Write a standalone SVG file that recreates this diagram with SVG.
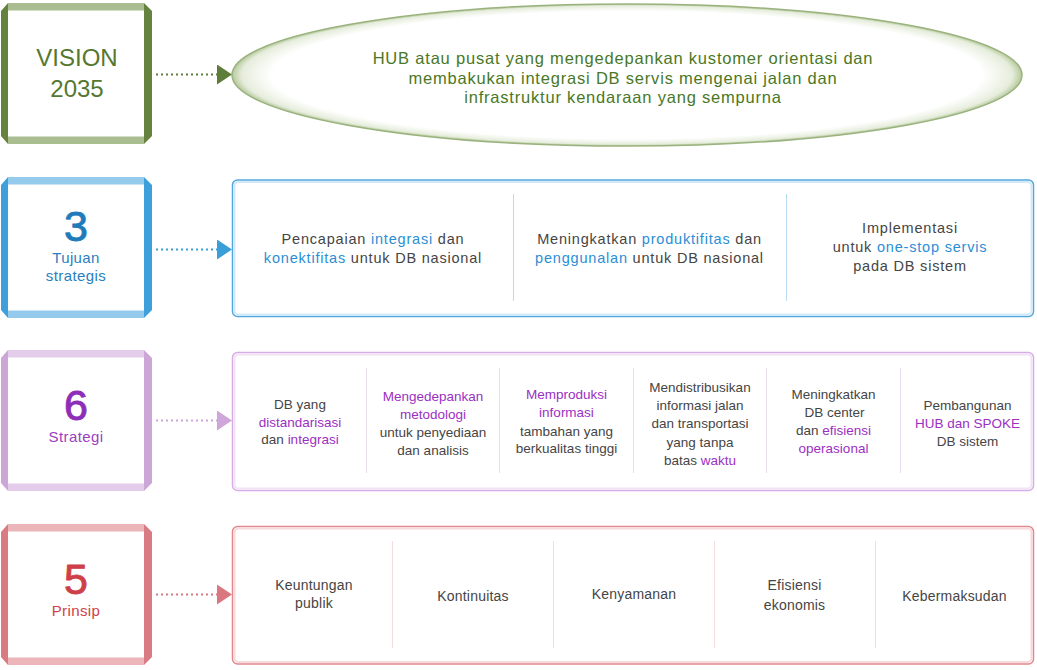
<svg xmlns="http://www.w3.org/2000/svg" width="1037" height="670" viewBox="0 0 1037 670">
<defs>
<style>
text{font-family:"Liberation Sans",Arial,sans-serif;text-anchor:middle}
.big{font-size:43px;stroke-width:0.9}
.lbl{font-size:15px;letter-spacing:0.4px}
.vis{font-size:24px;fill:#56772f}
.ell{font-size:16.5px;letter-spacing:0.8px;fill:#4a7826}
.t2{font-size:14.5px;letter-spacing:0.8px;fill:#454545}
.t3{font-size:13.5px;fill:#454545}
.t4{font-size:14px;letter-spacing:0.2px;fill:#454545}
.hb{fill:#2b8ed6}
.hp{fill:#9b30c2}
.dot{stroke-width:2.2;stroke-dasharray:2 3;fill:none}
</style>
<radialGradient id="eg" cx="0.5" cy="0.5" r="0.5">
<stop offset="0.9" stop-color="#ffffff"/>
<stop offset="0.975" stop-color="#e6eddc"/>
<stop offset="1" stop-color="#b6c99c"/>
</radialGradient>
<marker id="mg" markerUnits="userSpaceOnUse" markerWidth="15" markerHeight="20" refX="0" refY="10" orient="auto"><path d="M0,0 L15,10 L0,20 z" fill="#5f7d3a"/></marker>
<marker id="mb" markerUnits="userSpaceOnUse" markerWidth="15" markerHeight="20" refX="0" refY="10" orient="auto"><path d="M0,0 L15,10 L0,20 z" fill="#3a9fd9"/></marker>
<marker id="mp" markerUnits="userSpaceOnUse" markerWidth="15" markerHeight="20" refX="0" refY="10" orient="auto"><path d="M0,0 L15,10 L0,20 z" fill="#cfa6da"/></marker>
<marker id="mr" markerUnits="userSpaceOnUse" markerWidth="15" markerHeight="20" refX="0" refY="10" orient="auto"><path d="M0,0 L15,10 L0,20 z" fill="#d97880"/></marker>
</defs>
<rect width="1037" height="670" fill="#ffffff"/>

<!-- Row 1 -->
<g id="vision">
<rect x="8" y="3" width="136" height="7.5" fill="#aabd91"/>
<rect x="8" y="136.5" width="136" height="7.5" fill="#aabd91"/>
<polygon points="1,11 8,3 8,144 1,136" fill="#66823f"/>
<polygon points="144,3 152,11 152,136 144,144" fill="#66823f"/>
<text class="vis" x="77" y="66">VISION</text>
<text class="vis" x="77" y="96.5">2035</text>
</g>
<g id="vision-statement">
<ellipse cx="627" cy="75" rx="395" ry="71" fill="url(#eg)" stroke="#9ab37e" stroke-width="1.5"/>
<text class="ell" x="623" y="64">HUB atau pusat yang mengedepankan kustomer orientasi dan</text>
<text class="ell" x="623" y="83.5">membakukan integrasi DB servis mengenai jalan dan</text>
<text class="ell" x="623" y="103">infrastruktur kendaraan yang sempurna</text>
</g>

<!-- Row 2 -->
<g id="tujuan">
<rect x="8" y="177" width="136" height="7.5" fill="#94cbec"/>
<rect x="8" y="310.5" width="136" height="7.5" fill="#94cbec"/>
<polygon points="1,185 8,177 8,318 1,310" fill="#3da0db"/>
<polygon points="144,177 152,185 152,310 144,318" fill="#3da0db"/>
<text class="big" x="76" y="241" fill="#1f7bb9" stroke="#1f7bb9">3</text>
<text class="lbl" x="76" y="263" fill="#2a7fbd">Tujuan</text>
<text class="lbl" x="76" y="281" fill="#2a7fbd">strategis</text>
</g>
<g id="tujuan-panel">
<rect x="232.5" y="180" width="801" height="136.5" rx="5" fill="#ffffff" stroke="#52a8de" stroke-width="1.5"/>
<rect x="234.5" y="182" width="797" height="132.5" rx="4" fill="none" stroke="#d3e9f7" stroke-width="2"/>
<line x1="513.5" y1="194" x2="513.5" y2="301" stroke="#b8dcf2" stroke-width="1"/>
<line x1="786.5" y1="194" x2="786.5" y2="301" stroke="#b8dcf2" stroke-width="1"/>
<text class="t2" x="373" y="244">Pencapaian <tspan class="hb">integrasi</tspan> dan</text>
<text class="t2" x="373" y="263"><tspan class="hb">konektifitas</tspan> untuk DB nasional</text>
<text class="t2" x="649.5" y="244">Meningkatkan <tspan class="hb">produktifitas</tspan> dan</text>
<text class="t2" x="649.5" y="263"><tspan class="hb">penggunalan</tspan> untuk DB nasional</text>
<text class="t2" x="910" y="233">Implementasi</text>
<text class="t2" x="910" y="252">untuk <tspan class="hb">one-stop servis</tspan></text>
<text class="t2" x="910" y="271">pada DB sistem</text>
</g>

<!-- Row 3 -->
<g id="strategi">
<rect x="8" y="350" width="136" height="7.5" fill="#e3cdea"/>
<rect x="8" y="483.5" width="136" height="7.5" fill="#e3cdea"/>
<polygon points="1,358 8,350 8,491 1,483" fill="#cda6d8"/>
<polygon points="144,350 152,358 152,483 144,491" fill="#cda6d8"/>
<text class="big" x="76" y="420" fill="#8e2db8" stroke="#8e2db8">6</text>
<text class="lbl" x="76" y="441.5" fill="#9b3fc0">Strategi</text>
</g>
<g id="strategi-panel">
<rect x="232.5" y="352.5" width="801" height="138" rx="5" fill="#ffffff" stroke="#d7ade5" stroke-width="1.5"/>
<rect x="234.5" y="354.5" width="797" height="134" rx="4" fill="none" stroke="#f1e3f6" stroke-width="2"/>
<g stroke="#eadcef" stroke-width="1">
<line x1="366.5" y1="368" x2="366.5" y2="473"/>
<line x1="499.5" y1="368" x2="499.5" y2="473"/>
<line x1="633.5" y1="368" x2="633.5" y2="473"/>
<line x1="766.5" y1="368" x2="766.5" y2="473"/>
<line x1="900.5" y1="368" x2="900.5" y2="473"/>
</g>
<text class="t3" x="300" y="409">DB yang</text>
<text class="t3 hp" x="300" y="426.7">distandarisasi</text>
<text class="t3" x="300" y="444.4">dan <tspan class="hp">integrasi</tspan></text>
<text class="t3 hp" x="433" y="401">Mengedepankan</text>
<text class="t3 hp" x="433" y="419">metodologi</text>
<text class="t3" x="433" y="437">untuk penyediaan</text>
<text class="t3" x="433" y="455">dan analisis</text>
<text class="t3 hp" x="566.5" y="399">Memproduksi</text>
<text class="t3 hp" x="566.5" y="417">informasi</text>
<text class="t3" x="566.5" y="435.5">tambahan yang</text>
<text class="t3" x="566.5" y="453">berkualitas tinggi</text>
<text class="t3" x="700" y="392">Mendistribusikan</text>
<text class="t3" x="700" y="410">informasi jalan</text>
<text class="t3" x="700" y="428.3">dan transportasi</text>
<text class="t3" x="700" y="446.6">yang tanpa</text>
<text class="t3" x="700" y="464.5">batas <tspan class="hp">waktu</tspan></text>
<text class="t3" x="833.5" y="399.3">Meningkatkan</text>
<text class="t3" x="834.5" y="417.3">DB center</text>
<text class="t3" x="833.5" y="435">dan <tspan class="hp">efisiensi</tspan></text>
<text class="t3 hp" x="833.5" y="453.3">operasional</text>
<text class="t3" x="967.5" y="410">Pembangunan</text>
<text class="t3 hp" x="967.5" y="428.3">HUB dan SPOKE</text>
<text class="t3" x="967.5" y="446">DB sistem</text>
</g>

<!-- Row 4 -->
<g id="prinsip">
<rect x="8" y="524" width="136" height="7.5" fill="#ebb5b9"/>
<rect x="8" y="657.5" width="136" height="7.5" fill="#ebb5b9"/>
<polygon points="1,532 8,524 8,665 1,657" fill="#da7a82"/>
<polygon points="144,524 152,532 152,657 144,665" fill="#da7a82"/>
<text class="big" x="76" y="593.5" fill="#cf3f49" stroke="#cf3f49">5</text>
<text class="lbl" x="76" y="615.5" fill="#d0404a">Prinsip</text>
</g>
<g id="prinsip-panel">
<rect x="232.5" y="526.5" width="801" height="137.5" rx="5" fill="#ffffff" stroke="#e2878e" stroke-width="1.5"/>
<rect x="234.5" y="528.5" width="797" height="133.5" rx="4" fill="none" stroke="#f6d9db" stroke-width="2"/>
<g stroke="#f3dcde" stroke-width="1">
<line x1="392.5" y1="541" x2="392.5" y2="648"/>
<line x1="553.5" y1="541" x2="553.5" y2="648"/>
<line x1="714.5" y1="541" x2="714.5" y2="648"/>
<line x1="875.5" y1="541" x2="875.5" y2="648"/>
</g>
<text class="t4" x="314" y="590">Keuntungan</text>
<text class="t4" x="314" y="608">publik</text>
<text class="t4" x="473" y="601">Kontinuitas</text>
<text class="t4" x="634" y="599">Kenyamanan</text>
<text class="t4" x="794.5" y="590">Efisiensi</text>
<text class="t4" x="794.5" y="610">ekonomis</text>
<text class="t4" x="954.5" y="601">Kebermaksudan</text>
</g>

<g id="connectors">
<line class="dot" x1="156" y1="74.5" x2="217" y2="74.5" stroke="#5f7d3a" marker-end="url(#mg)"/>
<line class="dot" x1="156" y1="249.5" x2="217" y2="249.5" stroke="#3a9fd9" marker-end="url(#mb)"/>
<line class="dot" x1="156" y1="420.5" x2="217" y2="420.5" stroke="#cfa6da" marker-end="url(#mp)"/>
<line class="dot" x1="156" y1="594.5" x2="217" y2="594.5" stroke="#d97880" marker-end="url(#mr)"/>
</g>
</svg>
